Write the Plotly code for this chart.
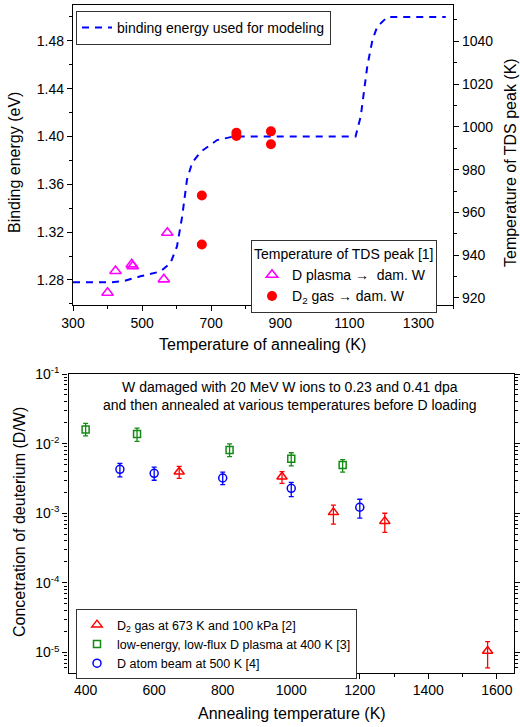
import plotly.graph_objects as go

W, H = 520, 727
def px(x): return x / W
def py(y): return 1 - y / H

FONT = "Liberation Sans, Arial, sans-serif"

# ---------------- Top panel data ----------------
model_T = [300, 413, 447, 495, 553, 582, 601, 616, 630, 645, 669, 717, 765,
           1118, 1133, 1152, 1167, 1181, 1210, 1379]
model_E = [1.278, 1.278, 1.279, 1.283, 1.287, 1.294, 1.308, 1.333, 1.364, 1.378,
           1.387, 1.397, 1.400, 1.400, 1.417, 1.459, 1.481, 1.492, 1.500, 1.500]

plasma_anneal_T = [400, 423, 470, 473, 563, 573]
plasma_peak_T = [922.4, 932.6, 935.7, 934.8, 928.7, 950.5]

gas_anneal_T = [673, 673, 773, 773, 873, 873]
gas_peak_T = [967.9, 945.0, 997.2, 995.7, 997.9, 991.9]

# ---------------- Bottom panel data ----------------
gas_T = [673, 973, 1123, 1273, 1573]
gas_conc = [3.95e-3, 3.34e-3, 1.03e-3, 7.7e-4, 1.05e-5]
gas_hi = [4.7e-3, 3.95e-3, 1.31e-3, 1.0e-3, 1.43e-5]
gas_lo = [3.17e-3, 2.69e-3, 7.0e-4, 5.3e-4, 6.0e-6]

lowflux_T = [400, 550, 820, 1000, 1150]
lowflux_conc = [1.6e-2, 1.37e-2, 8.1e-3, 6.07e-3, 4.93e-3]
lowflux_hi = [1.96e-2, 1.67e-2, 9.9e-3, 7.4e-3, 5.9e-3]
lowflux_lo = [1.29e-2, 1.08e-2, 6.5e-3, 4.8e-3, 3.9e-3]

beam_T = [500, 600, 800, 1000, 1200]
beam_conc = [4.28e-3, 3.74e-3, 3.21e-3, 2.28e-3, 1.22e-3]
beam_hi = [5.2e-3, 4.6e-3, 3.9e-3, 2.78e-3, 1.59e-3]
beam_lo = [3.34e-3, 2.98e-3, 2.57e-3, 1.73e-3, 8.5e-4]

log_tickvals = [1e-5, 1e-4, 1e-3, 1e-2, 1e-1]
log_ticktext = ["10<sup>-5</sup>", "10<sup>-4</sup>", "10<sup>-3</sup>",
                "10<sup>-2</sup>", "10<sup>-1</sup>"]

def errs(v, hi, lo):
    return dict(type="data", symmetric=False,
                array=[h - c for h, c in zip(hi, v)],
                arrayminus=[c - l for c, l in zip(v, lo)],
                thickness=1.3, width=2.5)

fig = go.Figure()

fig.add_trace(go.Scatter(
    x=model_T, y=model_E, mode="lines", xaxis="x", yaxis="y",
    line=dict(color="#0000ff", width=2, dash="7px,6px"),
    name="binding energy used for modeling", legend="legend"))

fig.add_trace(go.Scatter(
    x=plasma_anneal_T, y=plasma_peak_T, mode="markers", xaxis="x", yaxis="y2",
    marker=dict(symbol="triangle-up-open", size=10, color="#ff00ff",
                line=dict(width=1.6, color="#ff00ff")),
    name="D plasma \u2192  dam. W", legend="legend2"))

fig.add_trace(go.Scatter(
    x=gas_anneal_T, y=gas_peak_T, mode="markers", xaxis="x", yaxis="y2",
    marker=dict(symbol="circle", size=10, color="#ff0000"),
    name="D<sub>2</sub> gas \u2192 dam. W", legend="legend2"))

fig.add_trace(go.Scatter(
    x=gas_T, y=gas_conc, mode="markers", xaxis="x2", yaxis="y3",
    marker=dict(symbol="triangle-up-open", size=9, color="#ff0000",
                line=dict(width=1.5, color="#ff0000")),
    error_y=dict(errs(gas_conc, gas_hi, gas_lo), color="#ff0000"),
    name="D<sub>2</sub> gas at 673 K and 100 kPa [2]", legend="legend3"))

fig.add_trace(go.Scatter(
    x=lowflux_T, y=lowflux_conc, mode="markers", xaxis="x2", yaxis="y3",
    marker=dict(symbol="square-open", size=7, color="#138a13",
                line=dict(width=1.5, color="#138a13")),
    error_y=dict(errs(lowflux_conc, lowflux_hi, lowflux_lo), color="#138a13"),
    name="low-energy, low-flux D plasma at 400 K [3]", legend="legend3"))

fig.add_trace(go.Scatter(
    x=beam_T, y=beam_conc, mode="markers", xaxis="x2", yaxis="y3",
    marker=dict(symbol="circle-open", size=8, color="#0000ff",
                line=dict(width=1.5, color="#0000ff")),
    error_y=dict(errs(beam_conc, beam_hi, beam_lo), color="#0000ff"),
    name="D atom beam at 500 K [4]", legend="legend3"))

axis_common = dict(showline=True, linecolor="black", linewidth=1.3,
                   showgrid=False, zeroline=False, ticks="outside",
                   tickcolor="black", tickwidth=1.2, ticklen=5,
                   automargin=False,
                   tickfont=dict(size=14, color="black", family=FONT))

top_x = [px(73), px(453)]
top_y = [py(305), py(5)]
bot_x = [px(68.5), px(514)]
bot_y = [py(672.5), py(374)]

fig.update_layout(
    width=W, height=H, margin=dict(l=0, r=0, t=0, b=0, pad=0, autoexpand=False),
    paper_bgcolor="white", plot_bgcolor="white",
    font=dict(family=FONT, color="black", size=14),
    xaxis=dict(axis_common, domain=top_x, anchor="y", range=[300, 1400],
               dtick=200, tick0=300, mirror=True,
               minor=dict(ticks="outside", ticklen=3, dtick=100, tickcolor="black")),
    yaxis=dict(axis_common, domain=top_y, anchor="x", range=[1.259, 1.51],
               tickvals=[1.28, 1.32, 1.36, 1.40, 1.44, 1.48], tickformat=".2f",
               minor=dict(ticks="outside", ticklen=3, dtick=0.02, tickcolor="black")),
    yaxis2=dict(axis_common, overlaying="y", side="right", anchor="x",
                range=[916.7, 1057], dtick=20,
                minor=dict(ticks="outside", ticklen=3, dtick=10, tickcolor="black")),
    xaxis2=dict(axis_common, domain=bot_x, anchor="y3", range=[350, 1650],
                dtick=200, tick0=400, mirror=True,
                minor=dict(ticks="outside", ticklen=3, dtick=100, tickcolor="black")),
    yaxis3=dict(axis_common, domain=bot_y, anchor="x2", type="log",
                range=[-5.287, -1], tickvals=log_tickvals, ticktext=log_ticktext,
                mirror="ticks",
                minor=dict(ticks="outside", ticklen=3, dtick="D1", tickcolor="black")),
    legend=dict(x=px(76), y=py(11), xanchor="left", yanchor="top",
                bgcolor="white", bordercolor="#333333", borderwidth=1,
                font=dict(size=14, family=FONT)),
    legend2=dict(x=px(251), y=py(240), xanchor="left", yanchor="top",
                 bgcolor="white", bordercolor="#333333", borderwidth=1,
                 title=dict(text="Temperature of TDS peak [1]", font=dict(size=14)),
                 font=dict(size=14, family=FONT)),
    legend3=dict(x=px(76), y=py(609), xanchor="left", yanchor="top",
                 bgcolor="white", bordercolor="#333333", borderwidth=1,
                 font=dict(size=12.5, family=FONT)),
    showlegend=True,
)

ann = [
    dict(text="Binding energy (eV)", x=px(15), y=py(163), textangle=-90, size=16),
    dict(text="Temperature of TDS peak (K)", x=px(511), y=py(163), textangle=-90, size=16),
    dict(text="Temperature of annealing (K)", x=px(262), y=py(344), textangle=0, size=16),
    dict(text="Annealing temperature (K)", x=px(292), y=py(713), textangle=0, size=16),
    dict(text="Concetration of deuterium (D/W)", x=px(19), y=py(522), textangle=-90, size=16),
    dict(text="W damaged with 20 MeV W ions to 0.23 and 0.41 dpa<br>and then annealed at various temperatures before D loading",
         x=px(290), y=py(396), textangle=0, size=14),
]
for a in ann:
    fig.add_annotation(text=a["text"], x=a["x"], y=a["y"], xref="paper", yref="paper",
                       xanchor="center", yanchor="middle", textangle=a["textangle"],
                       showarrow=False, font=dict(size=a["size"], family=FONT, color="black"))

fig.write_html("out.html", config={"displayModeBar": False},
               post_script="document.body.style.margin='0';document.body.style.padding='0';")
